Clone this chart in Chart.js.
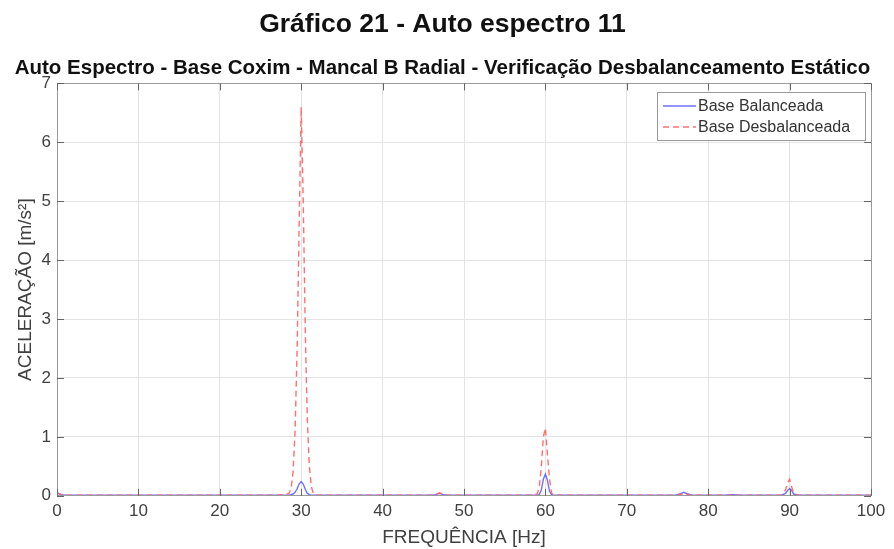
<!DOCTYPE html>
<html>
<head>
<meta charset="utf-8">
<script src="https://cdn.jsdelivr.net/npm/chart.js@4.4.1/dist/chart.umd.min.js"></script>
<style>
  html, body { margin: 0; padding: 0; background: #ffffff; }
  #wrap { width: 894px; height: 549px; }
</style>
</head>
<body>
<div id="wrap"><canvas id="c" width="894" height="549"></canvas></div>
<script>
// Frequency axis (Hz) – coarse away from the peaks, finer around them
const freqHz = [
  0, 0.5, 1, 2, 3, 4, 5, 6, 7, 8, 9, 10, 11, 12, 13, 14, 15, 16, 17, 18, 19, 20,
  21, 22, 23, 24, 25, 26, 27, 28, 28.5, 28.75, 29, 29.25, 29.5, 29.75, 30, 30.25,
  30.5, 30.75, 31, 31.25, 31.5, 32, 33, 34, 35, 36, 37, 38, 39, 40, 41, 42, 43, 44,
  45, 46, 46.5, 47, 47.5, 48, 49, 50, 51, 52, 53, 54, 55, 56, 57, 58, 59, 59.25,
  59.5, 59.75, 60, 60.25, 60.5, 60.75, 61, 62, 63, 64, 65, 66, 67, 68, 69, 70, 71,
  72, 73, 74, 75, 76, 76.5, 77, 77.5, 78, 79, 80, 81, 82, 83, 84, 85, 86, 87, 88,
  89, 89.5, 89.75, 90, 90.25, 90.5, 91, 92, 93, 94, 95, 96, 97, 98, 99, 100
];

// Acceleration (m/s²) – balanced base
const baseBalanceada = [
  0.05, 0.02, 0.01, 0.01, 0.01, 0.01, 0.01, 0.01, 0.01, 0.01, 0.01, 0.01, 0.01, 0.01, 0.01, 0.01, 0.01, 0.01, 0.01, 0.01, 0.01, 0.01,
  0.01, 0.01, 0.01, 0.01, 0.01, 0.01, 0.01, 0.01, 0.01, 0.02, 0.03, 0.06, 0.12, 0.2, 0.24, 0.2,
  0.11, 0.04, 0.02, 0.01, 0.01, 0.01, 0.01, 0.01, 0.01, 0.01, 0.01, 0.01, 0.01, 0.01, 0.01, 0.01, 0.01, 0.01,
  0.01, 0.01, 0.02, 0.04, 0.02, 0.01, 0.01, 0.01, 0.01, 0.01, 0.01, 0.01, 0.01, 0.01, 0.01, 0.01, 0.01, 0.02,
  0.1, 0.28, 0.37, 0.26, 0.08, 0.02, 0.01, 0.01, 0.01, 0.01, 0.01, 0.01, 0.01, 0.01, 0.01, 0.01, 0.01,
  0.01, 0.01, 0.01, 0.01, 0.01, 0.03, 0.06, 0.03, 0.01, 0.01, 0.01, 0.01, 0.01, 0.02, 0.01, 0.01, 0.01, 0.01, 0.01,
  0.01, 0.04, 0.09, 0.12, 0.09, 0.03, 0.01, 0.01, 0.01, 0.01, 0.01, 0.01, 0.01, 0.01, 0.01, 0.01
];

// Acceleration (m/s²) – unbalanced base
const baseDesbalanceada = [
  0.05, 0.02, 0.01, 0.01, 0.01, 0.01, 0.01, 0.01, 0.01, 0.01, 0.01, 0.01, 0.01, 0.01, 0.01, 0.01, 0.01, 0.01, 0.01, 0.01, 0.01, 0.01,
  0.01, 0.01, 0.01, 0.01, 0.01, 0.01, 0.01, 0.02, 0.04, 0.12, 0.4, 1.1, 2.5, 4.6, 6.6, 5.0,
  2.8, 1.3, 0.5, 0.15, 0.04, 0.01, 0.01, 0.01, 0.01, 0.01, 0.01, 0.01, 0.01, 0.01, 0.01, 0.01, 0.01, 0.01,
  0.01, 0.01, 0.02, 0.05, 0.02, 0.01, 0.01, 0.01, 0.01, 0.01, 0.01, 0.01, 0.01, 0.01, 0.01, 0.01, 0.03, 0.15,
  0.5, 1.0, 1.15, 0.7, 0.3, 0.05, 0.01, 0.01, 0.01, 0.01, 0.01, 0.01, 0.01, 0.01, 0.01, 0.01, 0.01,
  0.01, 0.01, 0.01, 0.01, 0.01, 0.02, 0.04, 0.02, 0.01, 0.01, 0.01, 0.01, 0.01, 0.01, 0.01, 0.01, 0.01, 0.01, 0.01,
  0.01, 0.1, 0.22, 0.28, 0.15, 0.05, 0.01, 0.01, 0.01, 0.01, 0.01, 0.01, 0.01, 0.01, 0.01, 0.01
];

const seriesNames = ['Base Balanceada', 'Base Desbalanceada'];
const xTicks = [0, 10, 20, 30, 40, 50, 60, 70, 80, 90, 100];
const yTicks = [0, 1, 2, 3, 4, 5, 6, 7];

const mainTitle = 'Gráfico 21 - Auto espectro 11';
const plotTitle = 'Auto Espectro - Base Coxim - Mancal B Radial - Verificação Desbalanceamento Estático';
const xLabel = 'FREQUÊNCIA [Hz]';
const yLabel = 'ACELERAÇÃO [m/s²]';

const toPoints = ys => freqHz.map((f, i) => ({ x: f, y: ys[i] }));

const FONT = '"Liberation Sans", Arial, sans-serif';
const TEXT_GREY = '#404040';
const FRAME = '#9a9a9a';

// Box frame, inward tick marks and legend box drawn on top of the plot
const frameAndLegend = {
  id: 'frameAndLegend',
  afterDatasetsDraw(chart) {
    const { ctx, chartArea: a, scales } = chart;
    ctx.save();
    ctx.strokeStyle = FRAME;
    ctx.lineWidth = 1;
    ctx.strokeRect(Math.round(a.left) + 0.5, Math.round(a.top) + 0.5,
                   Math.round(a.right - a.left), Math.round(a.bottom - a.top));
    ctx.strokeStyle = '#666';
    ctx.beginPath();
    xTicks.forEach(v => {
      const px = Math.round(scales.x.getPixelForValue(v)) + 0.5;
      ctx.moveTo(px, a.bottom); ctx.lineTo(px, a.bottom - 7);
      ctx.moveTo(px, a.top); ctx.lineTo(px, a.top + 7);
    });
    yTicks.forEach(v => {
      const py = Math.round(scales.y.getPixelForValue(v)) + 0.5;
      ctx.moveTo(a.left, py); ctx.lineTo(a.left + 7, py);
      ctx.moveTo(a.right, py); ctx.lineTo(a.right - 7, py);
    });
    ctx.stroke();

    // legend
    const bx = 657, by = 92, bw = 208, bh = 48;
    ctx.fillStyle = '#ffffff';
    ctx.fillRect(bx, by, bw, bh);
    ctx.strokeStyle = '#9a9a9a';
    ctx.strokeRect(bx + 0.5, by + 0.5, bw, bh);
    ctx.font = '16px ' + FONT;
    ctx.textBaseline = 'middle';
    chart.data.datasets.forEach((ds, i) => {
      const yy = by + 14 + i * 21;
      ctx.strokeStyle = ds.borderColor;
      ctx.lineWidth = 1.3;
      ctx.setLineDash(ds.borderDash || []);
      ctx.beginPath();
      ctx.moveTo(bx + 6, yy); ctx.lineTo(bx + 39, yy);
      ctx.stroke();
      ctx.setLineDash([]);
      ctx.fillStyle = '#333';
      ctx.fillText(ds.label, bx + 41, yy + 1);
    });
    ctx.restore();
  }
};

new Chart(document.getElementById('c'), {
  type: 'line',
  data: {
    datasets: [
      {
        label: seriesNames[0],
        data: toPoints(baseBalanceada),
        borderColor: 'rgba(95,95,255,0.9)',
        borderWidth: 1.4,
        pointRadius: 0,
        tension: 0,
        order: 1
      },
      {
        label: seriesNames[1],
        data: toPoints(baseDesbalanceada),
        borderColor: 'rgba(255,95,95,0.9)',
        borderWidth: 1.4,
        borderDash: [6, 4],
        pointRadius: 0,
        tension: 0,
        order: 0
      }
    ]
  },
  options: {
    responsive: false,
    animation: false,
    layout: { padding: { left: 14, right: 23, top: 0, bottom: 0 } },
    plugins: {
      legend: { display: false },
      tooltip: { enabled: false },
      title: {
        display: true,
        text: mainTitle,
        color: '#111',
        font: { family: FONT, size: 26.5, weight: 'bold', lineHeight: 1.2 },
        padding: { top: 9, bottom: 15 }
      },
      subtitle: {
        display: true,
        text: plotTitle,
        color: '#111',
        font: { family: FONT, size: 20.5, weight: 'bold', lineHeight: 1.2 },
        padding: { top: 0, bottom: 3 }
      }
    },
    scales: {
      x: {
        type: 'linear',
        min: 0, max: 100,
        afterBuildTicks: s => { s.ticks = xTicks.map(v => ({ value: v })); },
        grid: { color: '#e4e4e4', drawTicks: false },
        border: { display: false },
        ticks: { color: TEXT_GREY, font: { family: FONT, size: 17 }, padding: 5, maxRotation: 0 },
        title: { display: true, text: xLabel, color: TEXT_GREY, font: { family: FONT, size: 19 }, padding: { top: 0, bottom: 0 } }
      },
      y: {
        type: 'linear',
        min: 0, max: 7,
        afterBuildTicks: s => { s.ticks = yTicks.map(v => ({ value: v })); },
        grid: { color: '#e4e4e4', drawTicks: false },
        border: { display: false },
        ticks: { color: TEXT_GREY, font: { family: FONT, size: 17 }, padding: 6 },
        title: { display: true, text: yLabel, color: TEXT_GREY, font: { family: FONT, size: 19 }, padding: { top: 0, bottom: 2 } },
        afterFit: s => { s.width = 43; }
      }
    }
  },
  plugins: [frameAndLegend]
});
</script>
</body>
</html>
